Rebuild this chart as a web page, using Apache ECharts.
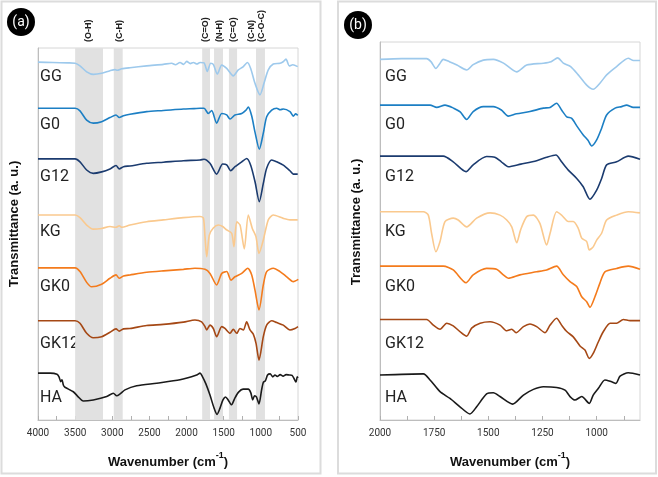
<!DOCTYPE html>
<html>
<head>
<meta charset="utf-8">
<script src="https://cdn.jsdelivr.net/npm/echarts@6.0.0/dist/echarts.min.js"></script>
<style>
html,body{margin:0;padding:0;background:#fff;}
#main{width:658px;height:477px;}
</style>
</head>
<body>
<div id="main"></div>
<script>
// FTIR spectra, [wavenumber (cm-1), transmittance (a. u., stacked)]
var names = ['GG', 'G0', 'G12', 'KG', 'GK0', 'GK12', 'HA'];
var colors = ['#9DC9EC', '#1C7FC4', '#1B3B6F', '#FAC98E', '#F47B1C', '#A54815', '#1a1a1a'];

// panel (a): 4000 - 500
var a_GG = [[4000,96.2],[3800,96.1],[3600,96.0],[3500,95.9],[3435,95.2],[3345,93.6],[3256,92.9],[3143,93.2],[3031,93.9],[2963,94.2],[2932,94.0],[2873,94.4],[2762,94.7],[2537,95.2],[2313,95.6],[2200,95.9],[2150,95.5],[2088,96.1],[2040,95.6],[1998,96.4],[1950,95.8],[1908,96.1],[1860,95.7],[1819,96.1],[1765,96.0],[1721,93.7],[1675,95.9],[1640,95.6],[1586,93.0],[1527,95.4],[1460,94.5],[1371,92.5],[1304,94.1],[1236,95.0],[1182,96.1],[1137,94.5],[1079,90.5],[1012,87.4],[958,90.5],[900,94.1],[833,95.7],[742,95.9],[700,96.3],[662,97.0],[617,95.2],[570,95.5],[504,95.0]];
var a_G0 = [[4000,83.8],[3500,83.8],[3435,83.1],[3345,80.6],[3256,79.8],[3143,80.2],[3031,81.3],[2950,82.0],[2906,81.3],[2850,81.8],[2762,82.2],[2537,82.9],[2313,83.2],[2043,83.6],[1900,83.7],[1819,83.8],[1765,83.8],[1707,82.4],[1662,83.2],[1595,79.8],[1527,82.4],[1460,82.0],[1415,80.9],[1348,82.0],[1258,82.4],[1200,83.3],[1169,84.1],[1123,81.7],[1079,77.4],[1021,72.8],[967,77.1],[922,81.5],[854,83.3],[787,83.8],[740,83.4],[698,83.6],[608,82.9],[563,81.7],[530,82.3],[504,81.9]];
var a_G12 = [[4000,70.2],[3500,70.2],[3435,69.4],[3345,67.2],[3256,66.3],[3143,66.7],[3031,67.5],[2950,68.4],[2906,67.5],[2850,68.1],[2762,68.3],[2537,69.0],[2313,69.3],[2043,69.7],[1819,69.9],[1765,70.1],[1685,69.0],[1595,66.1],[1514,68.8],[1460,68.6],[1406,67.0],[1348,68.1],[1258,69.4],[1191,70.3],[1137,68.5],[1079,64.1],[1021,58.7],[967,63.6],[922,67.7],[854,69.9],[787,69.4],[698,68.5],[608,67.0],[563,66.1],[504,66.1]];
var a_KG = [[4000,55.1],[3500,55.1],[3435,54.4],[3345,52.4],[3256,51.3],[3143,51.5],[3031,52.0],[2950,51.8],[2906,52.2],[2870,51.8],[2762,52.4],[2537,53.3],[2313,53.8],[2043,54.4],[1819,54.7],[1774,54.3],[1752,49.3],[1729,43.9],[1694,49.7],[1640,51.6],[1573,52.4],[1514,52.0],[1460,51.1],[1393,50.2],[1362,46.6],[1325,53.3],[1280,52.4],[1223,46.0],[1169,55.1],[1115,51.5],[1066,49.3],[1025,44.8],[967,48.4],[900,53.8],[833,55.1],[698,54.2],[608,53.8],[504,53.8]];
var a_GK0 = [[4000,40.9],[3500,40.9],[3435,39.9],[3345,37.0],[3280,35.8],[3143,36.5],[3031,38.1],[2950,39.0],[2906,38.1],[2850,38.7],[2762,39.0],[2537,39.7],[2313,40.1],[2043,40.5],[1887,40.8],[1752,40.5],[1685,39.4],[1595,36.3],[1527,39.4],[1460,39.9],[1402,37.6],[1348,38.5],[1258,39.4],[1177,40.8],[1123,39.0],[1079,34.9],[1025,29.6],[967,36.3],[922,39.9],[833,40.8],[742,39.9],[652,38.5],[563,37.2],[496,37.8]];
var a_GK12 = [[4000,26.7],[3500,26.7],[3435,26.0],[3345,23.3],[3256,22.1],[3143,22.4],[3031,23.6],[2950,24.5],[2906,23.9],[2850,24.5],[2762,24.6],[2537,25.4],[2313,25.7],[2043,26.3],[1887,26.9],[1797,26.4],[1752,25.1],[1729,24.2],[1685,25.5],[1640,24.6],[1595,22.4],[1527,25.1],[1483,24.6],[1415,23.3],[1371,24.4],[1325,23.3],[1281,24.6],[1236,24.2],[1191,26.4],[1146,24.2],[1102,23.1],[1065,20.6],[1025,16.1],[967,22.4],[922,25.5],[854,26.7],[787,26.2],[698,25.5],[608,24.2],[540,24.6],[500,25.1]];
var a_HA = [[4000,12.6],[3838,12.6],[3744,12.3],[3717,11.6],[3694,10.3],[3677,10.8],[3659,9.4],[3637,8.8],[3525,7.6],[3462,6.3],[3390,5.1],[3256,5.4],[3075,6.3],[2986,7.2],[2941,6.5],[2896,7.0],[2829,8.1],[2672,9.2],[2402,9.9],[2088,10.8],[1864,12.1],[1819,12.6],[1790,11.8],[1740,9.7],[1685,6.7],[1630,3.2],[1590,1.5],[1550,3.2],[1510,5.4],[1475,6.2],[1440,5.4],[1395,4.1],[1350,5.9],[1300,7.5],[1240,8.3],[1170,8.3],[1135,7.3],[1110,5.4],[1085,6.5],[1060,6.2],[1025,4.3],[990,8.1],[965,10.2],[940,10.5],[910,12.1],[875,12.4],[840,11.6],[810,12.1],[780,11.7],[740,12.2],[700,11.8],[660,12.2],[620,12.1],[580,12.0],[545,10.8],[527,10.2],[510,11.6],[500,11.3]];

// panel (b): 2000 - 800
var b_GG = [[2000,95.4],[1900,95.6],[1785,95.6],[1765,94.8],[1742,93.0],[1725,94.2],[1708,95.4],[1680,94.8],[1645,93.9],[1600,92.6],[1570,94.0],[1523,95.2],[1477,95.4],[1430,94.4],[1369,92.1],[1323,93.9],[1246,94.4],[1210,94.8],[1180,95.8],[1154,94.4],[1120,93.5],[1085,91.3],[1046,88.6],[1016,87.5],[985,89.1],[954,91.3],[908,93.5],[854,95.7],[830,95.1],[800,95.1]];
var b_G0 = [[2000,83.3],[1800,83.3],[1769,83.3],[1738,82.7],[1700,83.3],[1660,82.5],[1630,81.5],[1600,79.5],[1570,81.6],[1523,82.9],[1477,82.9],[1440,82.0],[1408,80.4],[1370,81.0],[1308,81.6],[1246,82.5],[1215,82.7],[1185,83.8],[1162,82.0],[1138,80.2],[1115,79.8],[1092,77.8],[1062,75.4],[1040,74.0],[1023,72.5],[1000,74.1],[977,77.2],[954,80.7],[915,82.5],[885,82.9],[862,83.3],[831,82.7],[800,82.7]];
var b_G12 = [[2000,69.8],[1800,69.8],[1708,69.8],[1662,68.3],[1603,65.7],[1570,67.5],[1508,69.7],[1470,69.5],[1440,68.3],[1408,67.0],[1350,67.7],[1277,68.6],[1231,69.5],[1188,70.1],[1162,68.3],[1131,66.1],[1092,63.9],[1062,61.7],[1031,58.4],[1000,60.8],[977,63.9],[954,67.5],[908,68.3],[854,69.8],[800,69.0]];
var b_KG = [[2000,55.1],[1800,55.1],[1777,54.2],[1762,49.4],[1742,44.5],[1723,47.2],[1700,52.5],[1662,53.4],[1639,52.9],[1600,51.1],[1554,53.4],[1492,54.8],[1446,54.2],[1415,52.9],[1392,51.1],[1369,46.9],[1351,50.3],[1323,53.8],[1292,54.2],[1262,52.0],[1231,46.3],[1215,49.4],[1185,55.1],[1162,54.2],[1131,52.5],[1108,52.5],[1085,50.7],[1069,48.1],[1046,47.2],[1034,45.0],[1016,45.8],[1000,47.6],[977,49.4],[954,52.9],[908,54.2],[854,55.1],[800,54.8]];
var b_GK0 = [[2000,40.7],[1800,40.7],[1708,40.7],[1662,39.7],[1603,36.3],[1570,38.4],[1508,40.1],[1462,39.9],[1431,38.4],[1408,37.5],[1354,38.4],[1277,39.2],[1231,39.7],[1185,40.7],[1154,38.4],[1123,36.6],[1092,35.3],[1069,32.6],[1046,31.3],[1031,29.8],[1008,32.6],[985,36.2],[962,39.2],[908,40.1],[854,40.7],[800,39.9]];
var b_GK12 = [[2000,26.6],[1785,26.6],[1754,25.1],[1723,24.0],[1692,25.6],[1662,24.9],[1631,23.4],[1600,22.2],[1577,24.3],[1538,25.6],[1492,26.0],[1446,25.1],[1415,23.6],[1392,24.0],[1372,23.1],[1338,24.7],[1308,25.4],[1277,24.7],[1238,23.1],[1215,25.1],[1185,26.9],[1162,25.1],[1138,23.4],[1108,22.0],[1077,19.6],[1054,18.5],[1034,16.3],[1016,17.6],[992,20.7],[969,23.4],[938,25.6],[908,25.6],[877,26.6],[846,26.3],[800,26.3]];
var b_HA = [[2000,11.9],[1800,12.2],[1769,10.6],[1723,7.5],[1677,5.7],[1631,3.5],[1585,1.6],[1554,3.5],[1508,6.9],[1477,7.2],[1446,6.2],[1388,4.2],[1338,6.6],[1292,8.1],[1246,8.8],[1185,8.6],[1146,7.9],[1123,6.2],[1100,5.3],[1069,6.2],[1034,4.4],[1016,6.6],[992,8.4],[962,10.6],[931,10.1],[911,9.7],[892,11.6],[854,12.5],[800,11.9]];

var specA = [a_GG, a_G0, a_G12, a_KG, a_GK0, a_GK12, a_HA];
var specB = [b_GG, b_G0, b_G12, b_KG, b_GK0, b_GK12, b_HA];

// axis ticks / labels
var ticksA = [500,750,1000,1250,1500,1750,2000,2250,2500,2750,3000,3250,3500,3750,4000];
var labelsA = [500,1000,1500,2000,2500,3000,3500,4000];
var ticksB = [875,1000,1125,1250,1375,1500,1625,1750,1875,2000];
var labelsB = [1000,1250,1500,1750,2000];

// shaded assignment bands in (a)
var bandRanges = [[3500,3125],[2980,2860],[1790,1685],[1630,1510],[1430,1320],[1065,945]];
var bandNames = ['(O-H)','(C-H)','(C=O)','(N-H)','(C=O)','(C-N)','(C-O-C)'];
var bandNamePos = [3320,2905,1740,1560,1370,1125,990];

var labelY = [76.7,125,176.7,231.7,286.7,344,398.3];

var chart = echarts.init(document.getElementById('main'));

function axisX(idx, min, max, ticks, labels){
    return {
        type:'value', gridIndex:idx, min:min, max:max, inverse:true,
        axisLine:{onZero:false, lineStyle:{color:'#bdbdbd', width:1}},
        axisTick:{inside:true, length:4, customValues:ticks, lineStyle:{color:'#b0b0b0'}},
        axisLabel:{customValues:labels, margin:8, fontSize:10, color:'#333', fontFamily:'Roboto',
            formatter:function(v){ return String(v); }},
        splitLine:{show:false}
    };
}
function axisY(idx){
    return {
        type:'value', gridIndex:idx, min:0, max:100,
        axisLine:{show:true, onZero:false, lineStyle:{color:'#bdbdbd'}},
        axisTick:{show:false}, axisLabel:{show:false}, splitLine:{show:false}
    };
}

var series = [];
series.push({
    type:'line', xAxisIndex:0, yAxisIndex:0, data:[[4000,0]], symbol:'none',
    lineStyle:{opacity:0}, silent:true, z:1,
    markArea:{silent:true, itemStyle:{color:'#e1e1e1'},
        data: bandRanges.map(function(r){ return [{xAxis:r[0]},{xAxis:r[1]}]; })}
});
for(var i=0;i<names.length;i++){
    series.push({name:names[i]+' a', type:'line', xAxisIndex:0, yAxisIndex:0, data:specA[i],
        showSymbol:false, smooth:0.25, z:3, lineStyle:{color:colors[i], width:1.6}});
    series.push({name:names[i]+' b', type:'line', xAxisIndex:1, yAxisIndex:1, data:specB[i],
        showSymbol:false, smooth:0.25, z:3, lineStyle:{color:colors[i], width:1.6}});
}

chart.setOption({
    animation:false,
    grid:[
        {left:38, top:48, width:260, height:372, show:true, borderColor:'#d6d6d6', borderWidth:1},
        {left:380, top:42, width:260, height:378, show:true, borderColor:'#d6d6d6', borderWidth:1}
    ],
    xAxis:[axisX(0,500,4000,ticksA,labelsA), axisX(1,800,2000,ticksB,labelsB)],
    yAxis:[axisY(0), axisY(1)],
    series:series
});

var g = [];
// panel frames
g.push({type:'rect', shape:{x:1.5,y:1.5,width:319,height:472}, style:{fill:null, stroke:'#dcdcdc', lineWidth:2}, z:0});
g.push({type:'rect', shape:{x:338,y:1.5,width:318,height:472}, style:{fill:null, stroke:'#dcdcdc', lineWidth:2}, z:0});
// panel tags
g.push({type:'circle', shape:{cx:21,cy:22,r:14}, style:{fill:'#000'}});
g.push({type:'text', x:21, y:22, style:{text:'(a)', fill:'#fff', font:'14px Roboto', align:'center', verticalAlign:'middle'}});
g.push({type:'circle', shape:{cx:358,cy:25,r:14}, style:{fill:'#000'}});
g.push({type:'text', x:358, y:25, style:{text:'(b)', fill:'#fff', font:'14px Roboto', align:'center', verticalAlign:'middle'}});
// band names
for(var k=0;k<bandNames.length;k++){
    var px = chart.convertToPixel({xAxisIndex:0}, bandNamePos[k]);
    g.push({type:'text', x:px, y:42, rotation:Math.PI/2,
        style:{text:bandNames[k], fill:'#222', font:'bold 9px "Liberation Sans", Arial', align:'left', verticalAlign:'middle'}});
}
// sample names
for(var j=0;j<names.length;j++){
    g.push({type:'text', x:40, y:labelY[j], style:{text:names[j], fill:'#222', font:'16px Roboto', align:'left', verticalAlign:'middle'}});
    g.push({type:'text', x:385, y:labelY[j], style:{text:names[j], fill:'#222', font:'16px Roboto', align:'left', verticalAlign:'middle'}});
}
// axis titles
var rich = {
    a:{fontSize:13, fontWeight:'bold', fontFamily:'"Liberation Sans", Arial', fill:'#111', lineHeight:18, verticalAlign:'bottom'},
    s:{fontSize:9, fontWeight:'bold', fontFamily:'"Liberation Sans", Arial', fill:'#111', lineHeight:18, verticalAlign:'top'}
};
[168, 510].forEach(function(cx){
    g.push({type:'text', x:cx, y:460, style:{text:'{a|Wavenumber (cm}{s|-1}{a|)}', rich:rich, align:'center', verticalAlign:'middle'}});
});
[[14,224],[356,222]].forEach(function(p){
    g.push({type:'text', x:p[0], y:p[1], rotation:Math.PI/2,
        style:{text:'Transmittance (a. u.)', fill:'#111', font:'bold 13px "Liberation Sans", Arial', align:'center', verticalAlign:'middle'}});
});

chart.setOption({graphic:g});
</script>
</body>
</html>
